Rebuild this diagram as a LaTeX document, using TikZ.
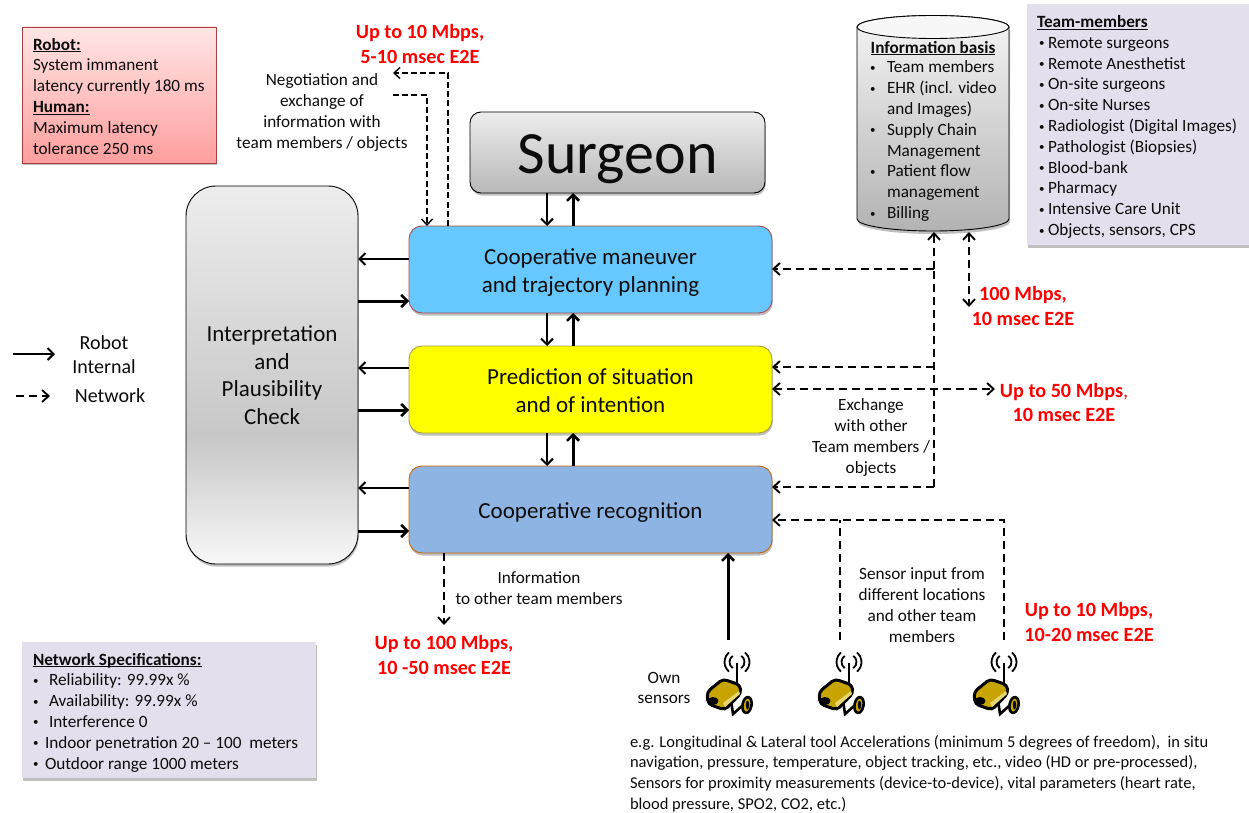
\documentclass[tikz,border=0pt]{standalone}
\usepackage{fontspec}
\setmainfont{Carlito}
\usetikzlibrary{shadows,arrows.meta,calc}
\definecolor{txt}{HTML}{0C0C0C}
\definecolor{teamfill}{HTML}{E4DFEC}
\definecolor{cmblue}{HTML}{66C8FF}
\definecolor{recblue}{HTML}{8EB4E3}
\definecolor{pureyellow}{RGB}{255,255,0}
\definecolor{camgold}{HTML}{C8A400}
\definecolor{camlight}{HTML}{E6D670}
\newcommand{\fs}[2]{\fontsize{#1}{#2}\selectfont}
\newcommand{\ul}[1]{\underline{\smash{\textbf{#1}}}\vphantom{Ay}}
\newcommand{\dotb}{{\fs{11}{11}\raisebox{1.5pt}{\textbullet}}}
\newcommand{\bul}{\hspace{2pt}\makebox[9pt][l]{\dotb}}
\newcommand{\sbul}[1]{\makebox[#1][l]{\dotb}}
\newcommand{\shifted}[2]{\raisebox{#1}[\height][\depth]{\begin{tabular}{@{}c@{}}#2\end{tabular}}}
\pgfdeclareverticalshading{interpshade}{100bp}{color(0bp)=(black!3); color(25bp)=(black!3); color(42bp)=(black!22); color(75bp)=(black!7); color(100bp)=(black!7)}
\tikzset{
  x=1pt,y=-1pt,
  every node/.style={font=\fs{17.2}{20.8},text=txt,inner sep=0pt,outer sep=0pt},
  body/.style={font=\fs{17.2}{20.8},align=left,anchor=north west},
  lab/.style={font=\fs{17.2}{20.8},align=center},
  redlab/.style={font=\fs{20.2}{24.5}\bfseries,align=center,text=red},
  softshadow/.style={drop shadow={shadow xshift=.8pt,shadow yshift=-2.5pt,fill=black,opacity=.25}},
  block/.style={rounded corners=13pt,minimum width=363pt,minimum height=87pt,font=\fs{23}{28},align=center,softshadow,line width=.9pt},
  note/.style={fill=#1,softshadow,anchor=north west},
  solid1/.style={draw=black,line width=2pt,-{Straight Barb[length=6pt,width=12pt,line width=2pt]}},
  solid2/.style={draw=black,line width=3pt,-{Straight Barb[length=6pt,width=12pt,line width=2.6pt]}},
  net/.style={draw=black,line width=1.9pt,dash pattern=on 8pt off 5pt,-{Straight Barb[length=6.5pt,width=12pt,line width=1.9pt]}},
  netb/.style={draw=black,line width=1.9pt,dash pattern=on 8pt off 5pt,{Straight Barb[length=6.5pt,width=12pt,line width=1.9pt]}-{Straight Barb[length=6.5pt,width=12pt,line width=1.9pt]}},
  netp/.style={draw=black,line width=1.9pt,dash pattern=on 8pt off 5pt},
  netf/.style={draw=black,line width=1.4pt,dash pattern=on 6pt off 3.2pt,-{Straight Barb[length=6pt,width=11pt,line width=1.4pt]}},
  cam/.pic={
    \draw[black,line width=2.8pt] (0,-15) -- (0,6);
    \draw[black,line width=1.8pt] (0,-16)+(125:7.5) arc (125:235:7.5);
    \draw[black,line width=1.8pt] (0,-16)+(55:7.5) arc (55:-55:7.5);
    \draw[black,line width=1.8pt] (0,-16)+(130:12.5) arc (130:230:12.5);
    \draw[black,line width=1.8pt] (0,-16)+(50:12.5) arc (50:-50:12.5);
    \draw[black,line width=2.6pt] (-6,22) -- (-4,36) -- (5,28);
    \draw[black,line width=2.6pt,fill=camgold,rotate around={-10:(10,27)}] (10,27) ellipse (4.5 and 8);
    \fill[black] (10.5,27) ellipse (1.6 and 4.5);
    \draw[black,line width=3pt,fill=camgold,rounded corners=4pt]
      (-30,14) -- (-14,1) -- (3,7) -- (4,15) -- (-12,32) -- (-29,26) -- cycle;
    \fill[camlight] (-14,25) -- (2,13) -- (3,16) -- (-12,29) -- cycle;
    \fill[black] (-24,23) ellipse (5.5 and 4);
  },
}
\begin{document}
\begin{tikzpicture}
\useasboundingbox[fill=white] (0,0) rectangle (1249,813);

% notes
\node[note={white},draw=red!55!black!75,line width=.8pt,top color=red!10,bottom color=red!38,minimum width=194pt,minimum height=136pt] (robot) at (22,27) {};
\node[body] (robottxt) at (33,39) {\ul{Robot:}\\System immanent\\latency currently 180 ms\\\ul{Human:}\\Maximum latency\\tolerance 250 ms};

\node[note={teamfill},minimum width=222pt,minimum height=241pt] (team) at (1027,4) {};
\node[body] (teamtxt) at (1037,16.5) {\ul{Team-members}\\
\bul Remote surgeons\\\bul Remote Anesthetist\\\bul On-site surgeons\\\bul On-site Nurses\\\bul Radiologist (Digital Images)\\\bul Pathologist (Biopsies)\\\bul Blood-bank\\\bul Pharmacy\\\bul Intensive Care Unit\\\bul Objects, sensors, CPS};

\node[note={teamfill},minimum width=294pt,minimum height=136pt] (spec) at (22,642) {};
\node[body] (spectxt) at (33,654) {\ul{Network Specifications:}\\\sbul{16pt}Reliability: 99.99x \%\\\sbul{16pt}Availability: 99.99x \%\\\sbul{16pt}Interference 0\\\sbul{12pt}Indoor penetration 20 – 100\ \ meters\\\sbul{12pt}Outdoor range 1000 meters};

% cylinder
\path[fill=black,opacity=.25] (858,30) -- (858,222) arc[start angle=180,end angle=0,x radius=76,y radius=12] -- (1010,30) -- cycle;
\draw[black,line width=.9pt,top color=black!4,bottom color=black!30] (857,27) -- (857,219) arc[start angle=180,end angle=0,x radius=76,y radius=12] -- (1009,27) arc[start angle=0,end angle=-180,x radius=76,y radius=11.5] -- cycle;
\draw[black,line width=.9pt,fill=black!3] (857,27) arc[start angle=180,end angle=0,x radius=76,y radius=11.5] arc[start angle=0,end angle=-180,x radius=76,y radius=11.5];
\node[font=\fs{17.2}{20.8}] (infotitle) at (933,49) {\ul{Information basis}};
\node[body] (infotxt) at (870,61) {\makebox[17pt][l]{\dotb}Team members\\\makebox[17pt][l]{\dotb}EHR (incl. video\\\hspace{17pt}and Images)\\\makebox[17pt][l]{\dotb}Supply Chain\\\hspace{17pt}Management\\\makebox[17pt][l]{\dotb}Patient flow\\\hspace{17pt}management\\\makebox[17pt][l]{\dotb}Billing};

% main blocks
\node[rounded corners=11pt,draw=black,line width=.9pt,top color=black!7,bottom color=black!28,minimum width=295pt,minimum height=81pt,font=\fs{60}{60},softshadow] (surgeon) at (617.5,152.5) {\raisebox{-7pt}[\height][\depth]{Surgeon}};
\node[block,draw=red!55!black!70,fill=cmblue] (plan) at (590.5,269.5) {\shifted{-3.5pt}{Cooperative maneuver\\and trajectory planning}};
\node[block,draw=yellow!60!black,fill=pureyellow] (pred) at (590.5,389.5) {\shifted{-3pt}{Prediction of situation\\and of intention}};
\node[block,draw=orange!80!black,fill=recblue] (recog) at (590.5,509.5) {\shifted{-3pt}{Cooperative recognition}};
\node[rounded corners=30pt,draw=black,line width=.9pt,shading=interpshade,minimum width=172pt,minimum height=378pt,font=\fs{23}{27.7},align=center,softshadow] (interp) at (272,375) {\shifted{-2.5pt}{Interpretation\\and\\Plausibility\\Check}};

% cameras
\path (737,678) pic {cam};
\path (849,678) pic {cam};
\path (1004,678) pic {cam};

% surgeon and inter-block solid arrows
\draw[solid1] (surgeon.south -| 547,0) -- (plan.north -| 547,0);
\draw[solid2] (plan.north -| 573,0) -- (surgeon.south -| 573,0);
\draw[solid1] (plan.south -| 547,0) -- (pred.north -| 547,0);
\draw[solid2] (pred.north -| 573,0) -- (plan.south -| 573,0);
\draw[solid1] (pred.south -| 547,0) -- (recog.north -| 547,0);
\draw[solid2] (recog.north -| 573,0) -- (pred.south -| 573,0);
% interpretation arrows
\foreach \a/\b/\c in {259/301/plan,368/410/pred,488/531/recog}{
  \draw[solid1] (\c.west |- 0,\a) -- (interp.east |- 0,\a);
  \draw[solid2] (interp.east |- 0,\b) -- (\c.west |- 0,\b);
}
% top-left network
\coordinate (negA) at (393,73);
\coordinate (negB) at (393,95);
\draw[netf] (plan.north -| 448,0) -- (448,73) -- (negA);
\draw[netf] (negB) -- (427,95) -- (plan.north -| 427,0);
% right network
\coordinate (cylA) at (934,232);
\coordinate (cylB) at (969,232);
\coordinate (rate) at (969,307);
\coordinate (up50) at (995,389);
\coordinate (infoEnd) at (444,625);
\draw[net] (934,269) -- (plan.east |- 0,269);
\draw[net] (934,367) -- (pred.east |- 0,367);
\draw[net] (934,487) -- (recog.east |- 0,487);
\draw[netb] (pred.east |- 0,389) -- (up50);
\draw[netp] (934,487) -- (934,269);
\draw[net] (934,269) -- (cylA);
\draw[netb] (cylB) -- (rate);
% sensors
\coordinate (s1) at (728,640);
\coordinate (s2) at (840,640);
\coordinate (s3) at (1004,640);
\draw[solid2] (s1) -- (recog.south -| s1);
\draw[net] (s3) -- (1004,520) -- (recog.east |- 0,520);
\draw[netp] (s2) -- (840,520);
\draw[net] (recog.south -| infoEnd) -- (infoEnd);
% legend
\coordinate (lg1) at (13,354); \coordinate (lg2) at (55,354);
\coordinate (lg3) at (16,396); \coordinate (lg4) at (50,396);
\draw[solid1] (lg1) -- (lg2);
\draw[net] (lg3) -- (lg4);
\node[font=\fs{20}{24},align=center] (lgA) at (104,355) {Robot\\Internal};
\node[font=\fs{20}{24}] (lgB) at (110,395.5) {Network};

% labels
\node[redlab] (r1) at (420,44) {Up to 10 Mbps,\\5-10 msec E2E};
\node[redlab] (r2) at (1023,306) {100 Mbps,\\10 msec E2E};
\node[redlab] (r3) at (1064,402.5) {Up to 50 Mbps{\mdseries ,}\\10 msec E2E};
\node[redlab] (r4) at (444,655) {Up to 100 Mbps,\\10 -50 msec E2E};
\node[redlab] (r5) at (1089,622) {Up to 10 Mbps,\\10-20 msec E2E};
\node[lab] (l1) at (322,112.5) {Negotiation and\\exchange of\\information with\\team members / objects};
\node[lab] (l2) at (871,437.5) {Exchange\\with other\\Team members /\\objects};
\node[lab] (l3) at (539,588) {Information\\to other team members};
\node[lab] (l4) at (922,605) {Sensor input from\\different locations\\and other team\\members};
\node[lab] (l5) at (664,688) {Own\\sensors};
\node[body,font=\fs{16.5}{20.8}] (l6) at (630,735) {e.g. Longitudinal \& Lateral tool Accelerations (minimum 5 degrees of freedom),\ \ in situ\\navigation, pressure, temperature, object tracking, etc., video (HD or pre-processed),\\Sensors for proximity measurements (device-to-device), vital parameters (heart rate,\\blood pressure, SPO2, CO2, etc.)};
\end{tikzpicture}
\end{document}
